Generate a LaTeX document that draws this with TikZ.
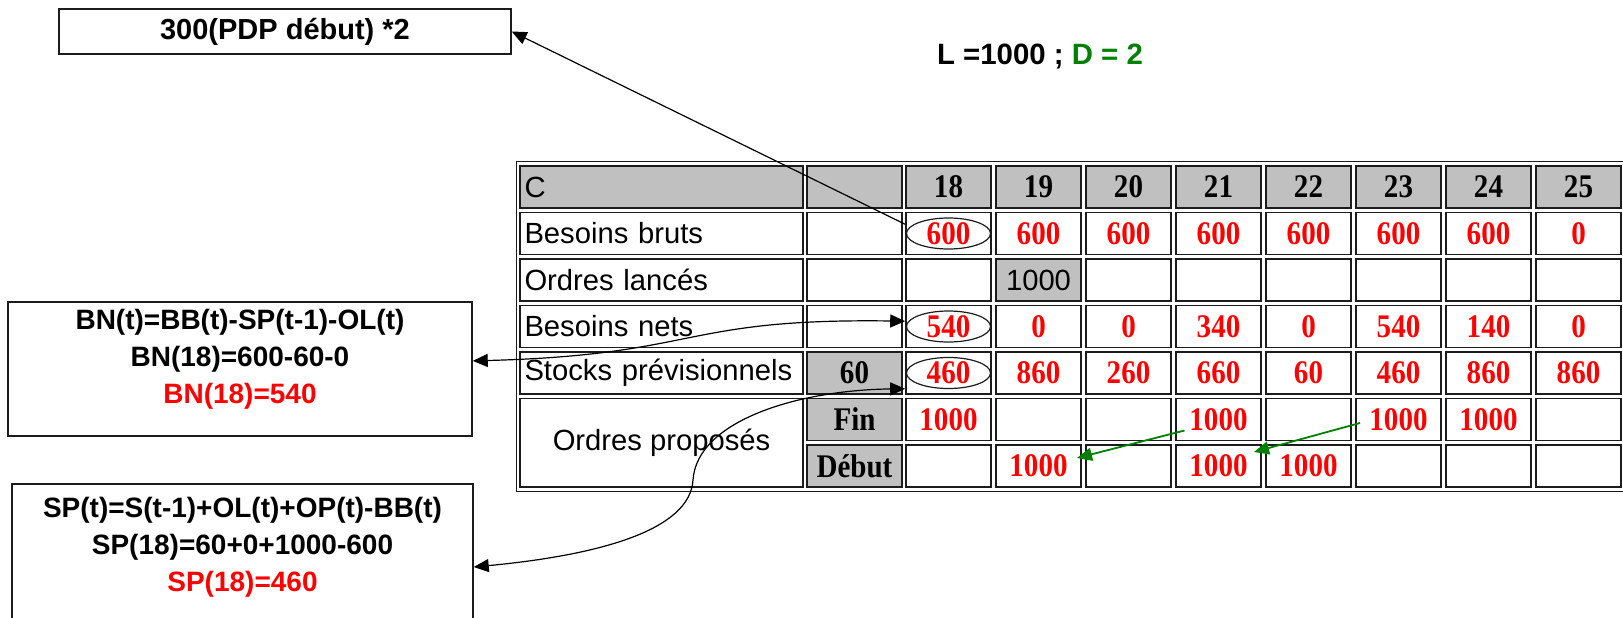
\documentclass[tikz,border=0pt]{standalone}
\usepackage{fontspec}
\setmainfont{Liberation Sans}
\newfontfamily\valfont[FakeStretch=0.88]{Liberation Serif}
\usetikzlibrary{shapes.geometric,arrows.meta}
\definecolor{cellgray}{HTML}{C0C0C0}
\definecolor{cellline}{HTML}{1C1C1C}
\definecolor{valred}{HTML}{FF0000}
\definecolor{lagreen}{HTML}{008000}
\newcommand{\labfont}{\fontsize{14.6}{17}\selectfont}
\newcommand{\numfont}{\valfont\bfseries\fontsize{16.5}{18}\selectfont}

\begin{document}
\begin{tikzpicture}[
        x=0.5pt, y=-0.5pt,
        cell/.style={draw=cellline, line width=0.8pt, minimum width=42.5pt, minimum height=21pt, inner sep=0pt},
        graycell/.style={cell, fill=cellgray},
        labelcell/.style={cell, minimum width=141.5pt, text width=137pt, align=left, font=\labfont},
        val/.style={font=\numfont, text=valred},
        ovalmark/.style={draw=cellline, ellipse, line width=0.6pt, minimum width=42pt, minimum height=15.5pt, inner sep=0pt},
        notebox/.style={draw=cellline, line width=0.75pt},
        notetext/.style={font=\bfseries\fontsize{14}{18.5}\selectfont, align=center},
        link/.style={line width=0.6pt, -{Triangle[length=7.5pt,width=6.5pt]}},
        duallink/.style={line width=0.6pt, {Triangle[length=7.5pt,width=6.5pt]}-{Triangle[length=7.5pt,width=6.5pt]}},
        shiftarrow/.style={draw=lagreen, line width=0.9pt, -{Triangle[length=7.5pt,width=6.5pt]}}
    ]
        \useasboundingbox (0,0) rectangle (1623,617);

        % table frame and header
        \draw[cellline, line width=0.6pt] (516.5,161.5) rectangle (1640,491.5);
        \node[labelcell, fill=cellgray] (hc) at (661.5,187) {C};
        \node[graycell, minimum width=47.5pt] (hx) at (854.5,187) {};
        \foreach \d [count=\k from 0] in {18,...,25}
            \node[graycell, font=\numfont] (h\k) at ({948.5+90*\k},187) {\d};

        % row labels
        \node[labelcell] (lbb) at (661.5,233.5) {Besoins bruts};
        \node[labelcell] (lol) at (661.5,280) {Ordres lancés};
        \node[labelcell] (lbn) at (661.5,326.5) {Besoins nets};
        \node[labelcell] (lsp) at (661.5,373) {Stocks prévisionnels};
        \node[cell, minimum width=141.5pt, minimum height=44.25pt, font=\labfont] (lop) at (661.5,442.75) {Ordres proposés};

        \node[cell, minimum width=47.5pt] (xbb) at (854.5,233.5) {};
        \node[cell, minimum width=47.5pt] (xol) at (854.5,280) {};
        \node[cell, minimum width=47.5pt] (xbn) at (854.5,326.5) {};
        \node[graycell, minimum width=47.5pt, font=\numfont] (xsp) at (854.5,373) {60};
        \node[graycell, minimum width=47.5pt, font=\numfont] (xfin) at (854.5,419.5) {Fin};
        \node[graycell, minimum width=47.5pt, font=\numfont] (xdeb) at (854.5,466) {Début};

        % values
        \foreach \v [count=\k from 0] in {600,600,600,600,600,600,600,0}
            \node[cell, val] (bb\k) at ({948.5+90*\k},233.5) {\v};
        \foreach \k in {0,2,3,4,5,6,7}
            \node[cell] (ol\k) at ({948.5+90*\k},280) {};
        \node[graycell, font=\labfont] (ol1) at (1038.5,280) {1000};
        \foreach \v [count=\k from 0] in {540,0,0,340,0,540,140,0}
            \node[cell, val] (bn\k) at ({948.5+90*\k},326.5) {\v};
        \foreach \v [count=\k from 0] in {460,860,260,660,60,460,860,860}
            \node[cell, val] (sp\k) at ({948.5+90*\k},373) {\v};
        \foreach \v [count=\k from 0] in {1000,{},{},1000,{},1000,1000,{}}
            \node[cell, val] (f\k) at ({948.5+90*\k},419.5) {\v};
        \foreach \v [count=\k from 0] in {{},1000,{},1000,1000,{},{},{}}
            \node[cell, val] (d\k) at ({948.5+90*\k},466) {\v};

        \node[ovalmark] (e600) at (bb0) {};
        \node[ovalmark] (e540) at (bn0) {};
        \node[ovalmark] (e460) at (sp0) {};

        % notes
        \node[font=\bfseries\fontsize{14.7}{17}\selectfont] (lotdata) at (1040,57) {L =1000 ; \textcolor{lagreen}{D = 2}};
        \node[notebox, minimum width=226pt, minimum height=22.5pt, font=\bfseries\fontsize{14.5}{17}\selectfont] (pdpbox) at (285,31.5) {300(PDP début) *2};
        \node[notebox, minimum width=232pt, minimum height=67pt] (bnbox) at (240,369) {};
        \node[notetext] (bntext) at (240,359.5) {BN(t)=BB(t)-SP(t-1)-OL(t)\\BN(18)=600-60-0\\\textcolor{valred}{BN(18)=540}};
        \node[notebox, minimum width=230.5pt, minimum height=83pt] (spbox) at (242.5,567) {};
        \node[notetext] (sptext) at (242.5,547.5) {SP(t)=S(t-1)+OL(t)+OP(t)-BB(t)\\SP(18)=60+0+1000-600\\\textcolor{valred}{SP(18)=460}};

        % links
        \draw[link] (bb0.168) -- (pdpbox.east);
        \draw[duallink] (bnbox.2) .. controls (700,355) and (680,318) .. (bn0.173);
        \draw[duallink] (spbox.east) .. controls (600,555) and (690,530) .. (693,480) .. controls (697,420) and (800,390) .. (sp0.200);
        \draw[shiftarrow] ([shift={(-34,11)}]f3.center) -- ([shift={(38.5,-8)}]d1.center);
        \draw[shiftarrow] ([shift={(-38.5,3.5)}]f5.center) -- ([shift={(35.5,-14)}]d3.center);
    \end{tikzpicture}
\end{document}
